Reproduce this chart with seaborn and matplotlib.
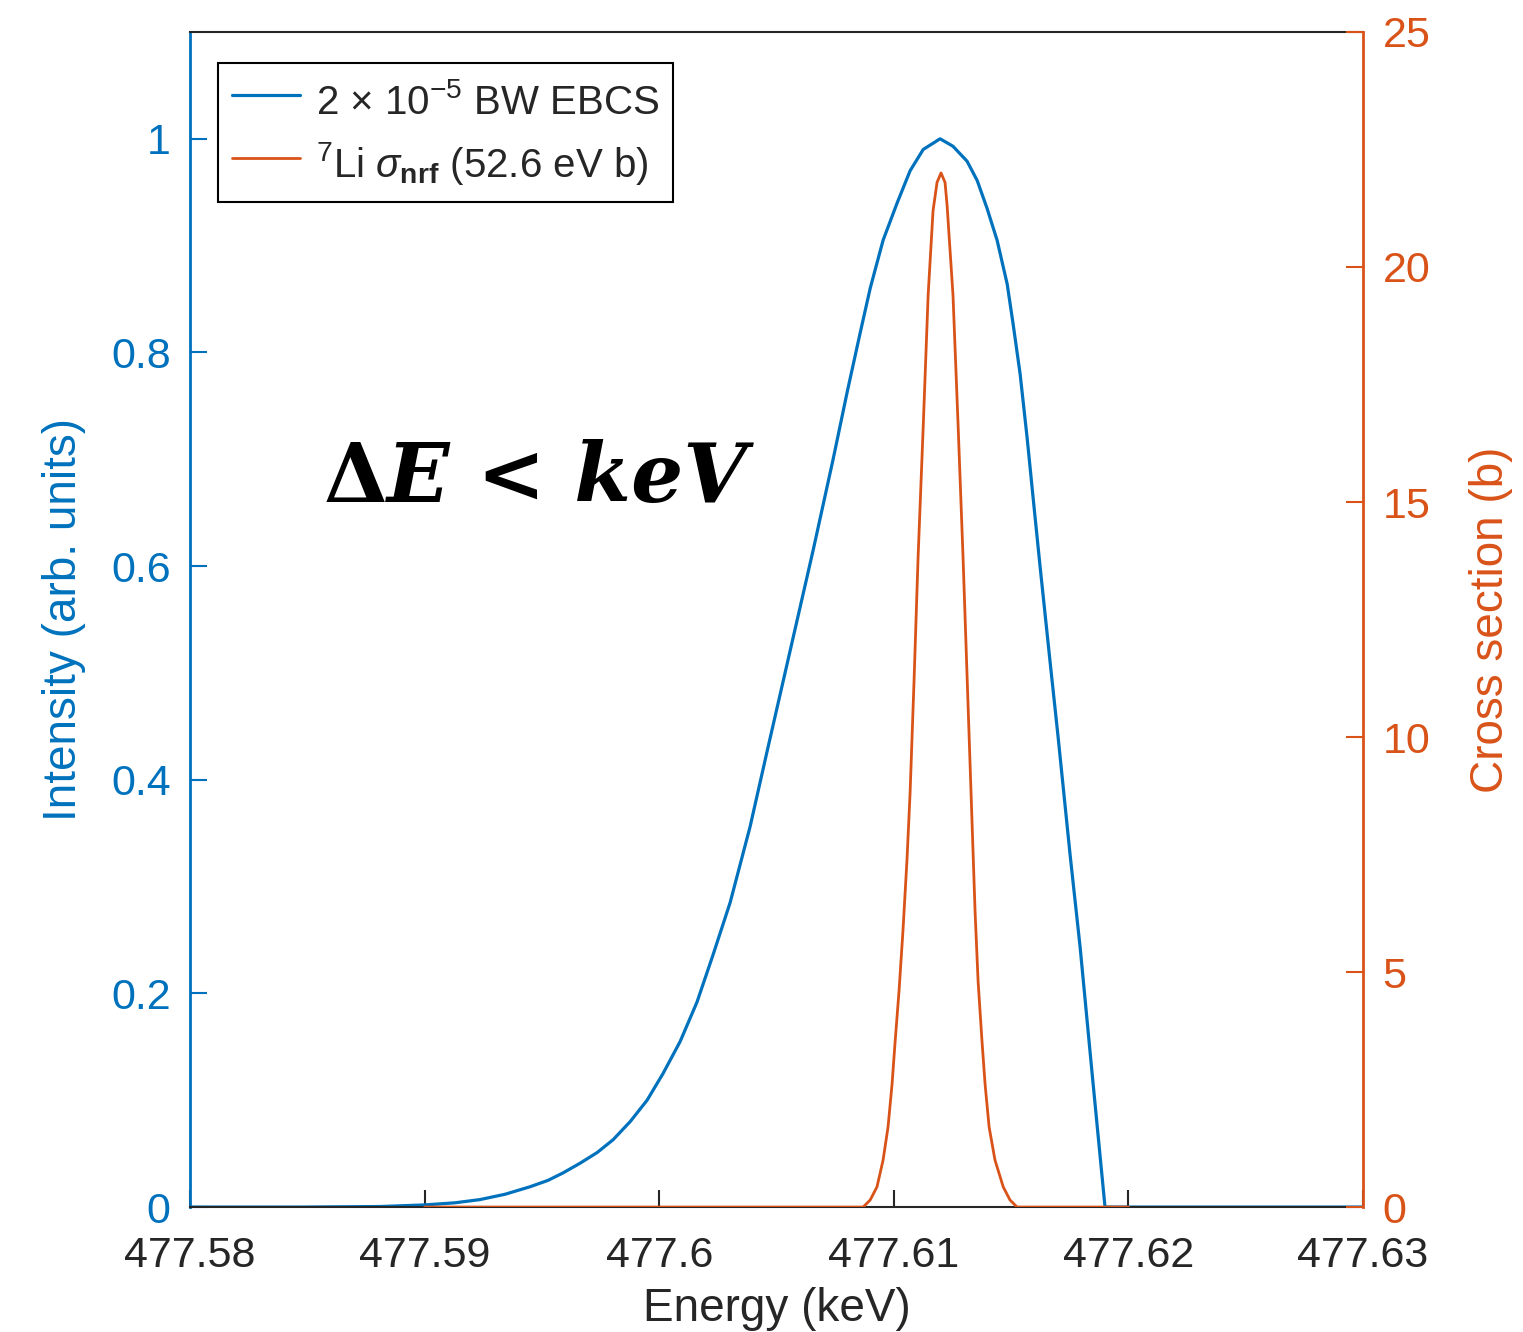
import numpy as np
import pandas as pd
import matplotlib
matplotlib.use("Agg")
import matplotlib.pyplot as plt
import seaborn as sns

BLUE   = "#0072BD"
ORANGE = "#D95319"
DARK   = "#262626"

# EBCS beam spectrum, intensity (arb. units) vs energy (keV)
ebcs_energy = [
    477.58000, 477.58469, 477.58810, 477.59000, 477.59130, 477.59236, 477.59343,
    477.59449, 477.59526, 477.59590, 477.59662, 477.59735, 477.59803, 477.59876,
    477.59948, 477.60016, 477.60089, 477.60161, 477.60229, 477.60302, 477.60387,
    477.60460, 477.60558, 477.60656, 477.60741, 477.60801, 477.60856, 477.60899,
    477.60954, 477.61014, 477.61069, 477.61125, 477.61197, 477.61252, 477.61312,
    477.61355, 477.61397, 477.61440, 477.61483, 477.61508, 477.61538, 477.61568,
    477.61593, 477.61623, 477.61666, 477.61700, 477.61751, 477.61794, 477.61845,
    477.61900, 477.61998, 477.63000,
]
ebcs_intensity = [
    0.0, 0.0, 0.0005, 0.002, 0.004, 0.007, 0.012,
    0.019, 0.025, 0.032, 0.041, 0.051, 0.063, 0.080,
    0.100, 0.125, 0.155, 0.192, 0.236, 0.285, 0.356,
    0.427, 0.521, 0.615, 0.700, 0.763, 0.818, 0.860,
    0.905, 0.940, 0.970, 0.990, 1.000, 0.993, 0.979,
    0.961, 0.935, 0.905, 0.864, 0.827, 0.780, 0.720,
    0.665, 0.600, 0.510, 0.440, 0.330, 0.243, 0.125,
    0.0, 0.0, 0.0,
]

# 7Li NRF cross section (b) vs energy (keV)
li_energy = [
    477.59000, 477.60771, 477.60869, 477.60899, 477.60928, 477.60954, 477.60975,
    477.60992, 477.61005, 477.61022, 477.61039, 477.61056, 477.61069, 477.61086,
    477.61103, 477.61125, 477.61146, 477.61167, 477.61184, 477.61201, 477.61218,
    477.61227, 477.61252, 477.61274, 477.61295, 477.61312, 477.61329, 477.61346,
    477.61359, 477.61376, 477.61389, 477.61406, 477.61431, 477.61466, 477.61495,
    477.61525, 477.61623, 477.62000,
]
li_xs = [
    0.0, 0.0, 0.0, 0.15, 0.43, 1.0, 1.7,
    2.6, 3.5, 4.6, 5.9, 7.4, 8.8, 11.2,
    13.8, 16.6, 19.4, 21.2, 21.8, 22.0, 21.8,
    21.3, 19.4, 16.6, 13.8, 11.3, 8.8, 6.3,
    4.8, 3.5, 2.6, 1.7, 1.0, 0.43, 0.15,
    0.0, 0.0, 0.0,
]

x_ticks  = [477.58, 477.59, 477.60, 477.61, 477.62, 477.63]
x_labels = ["477.58", "477.59", "477.6", "477.61", "477.62", "477.63"]
left_ticks  = [0, 0.2, 0.4, 0.6, 0.8, 1.0]
left_labels = ["0", "0.2", "0.4", "0.6", "0.8", "1"]
right_ticks = [0, 5, 10, 15, 20, 25]

sns.set_style("white")
plt.rcParams["font.family"] = ["Liberation Sans", "DejaVu Sans"]
plt.rcParams["mathtext.fontset"] = "custom"
plt.rcParams["mathtext.rm"] = "Liberation Sans"
plt.rcParams["mathtext.it"] = "Liberation Sans:italic"
plt.rcParams["mathtext.bf"] = "Liberation Sans:bold"

fig = plt.figure(figsize=(15.23, 13.32), dpi=100)
ax1 = fig.add_axes([0.1248, 0.0938, 0.7702, 0.8822])
ax2 = ax1.twinx()

ebcs = pd.DataFrame({"energy": ebcs_energy, "intensity": ebcs_intensity})
li = pd.DataFrame({"energy": li_energy, "xs": li_xs})

sns.lineplot(data=ebcs, x="energy", y="intensity", ax=ax1, color=BLUE,
             linewidth=2.3, label=r"2 $\times$ 10$^{-5}$ BW EBCS", legend=False)
sns.lineplot(data=li, x="energy", y="xs", ax=ax2, color=ORANGE,
             linewidth=2.0, label=r"$^{7}$Li $\sigma_{\mathbf{nrf}}$ (52.6 eV b)", legend=False)

ax1.set_xlim(477.58, 477.63)
ax1.set_ylim(0, 1.1)
ax2.set_ylim(0, 25)

ax1.set_xticks(x_ticks, x_labels)
ax1.set_yticks(left_ticks, left_labels)
ax2.set_yticks(right_ticks, [str(t) for t in right_ticks])

ax1.tick_params(axis="x", direction="in", length=12, width=1.5, colors=DARK,
                labelsize=31, pad=21, bottom=True)
ax1.tick_params(axis="y", direction="in", length=12, width=1.5, colors=BLUE,
                labelsize=31, pad=14, left=True)
ax2.tick_params(axis="y", direction="in", length=12, width=1.5, colors=ORANGE,
                labelsize=31, pad=14, right=True)

ax1.set_xlabel("Energy (keV)", fontsize=33, color=DARK, labelpad=8)
ax1.set_ylabel("Intensity (arb. units)", fontsize=33, color=BLUE, labelpad=18)
ax2.set_ylabel("Cross section (b)", fontsize=33, color=ORANGE, labelpad=28)

for s in ["top", "bottom"]:
    ax1.spines[s].set_color(DARK)
    ax1.spines[s].set_linewidth(1.5)
ax1.spines["left"].set_color(BLUE)
ax1.spines["left"].set_linewidth(2)
ax1.spines["right"].set_visible(False)
ax2.spines["right"].set_color(ORANGE)
ax2.spines["right"].set_linewidth(2)
for s in ["left", "top", "bottom"]:
    ax2.spines[s].set_visible(False)

handles = ax1.get_lines()[:1] + ax2.get_lines()[:1]
labels = [h.get_label() for h in handles]
leg = ax2.legend(handles, labels, loc="upper left", bbox_to_anchor=(0.024, 0.974),
                 borderaxespad=0, fontsize=29, frameon=True, fancybox=False,
                 framealpha=1, edgecolor="black", handlelength=1.7,
                 handleheight=1.55, handletextpad=0.4, labelspacing=0.3,
                 borderpad=0.33)
leg.get_frame().set_linewidth(1.5)
for t in leg.get_texts():
    t.set_color(DARK)

# annotation: upright bold Delta, then bold italic rest
delta = ax1.text(0.114, 0.62, "Δ", transform=ax1.transAxes, ha="left", va="center",
                 fontsize=59, fontweight="bold", family=["DejaVu Serif"], color="black")
ax1.annotate("E < keV", xy=(1, 0), xycoords=delta, ha="left", va="bottom",
             fontsize=59, fontweight="bold", fontstyle="italic",
             family=["DejaVu Serif"], color="black")

fig.savefig("out.png", dpi=100)
